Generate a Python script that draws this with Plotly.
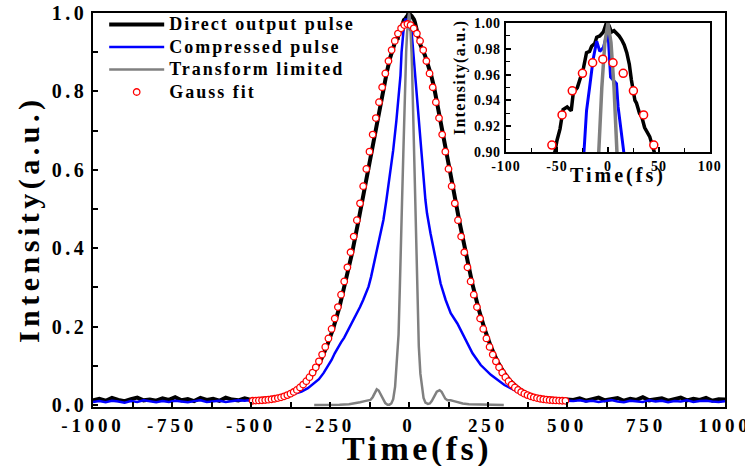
import plotly.graph_objects as go

# ---------------- data ----------------
# Direct output pulse (black)
black_noise_left_t = list(range(-1000, -500, 20))
black_noise_left_i = [0.012, 0.016, 0.011, 0.018, 0.013, 0.010, 0.015, 0.019, 0.012, 0.014,
                      0.011, 0.017, 0.013, 0.020, 0.012, 0.015, 0.010, 0.018, 0.013, 0.016,
                      0.011, 0.019, 0.014, 0.012, 0.017]
black_pulse_t = [-500, -480, -460, -440, -420, -400, -380, -360, -340, -320, -300, -280, -260,
                 -240, -220, -200, -180, -160, -140, -120, -100, -80,
                 -70, -60, -55, -52, -50, -47, -44, -40, -36, -34, -30, -27, -24, -21, -18, -16,
                 -13, -11, -8, -4.5, -1.5,
                 1, 3.5, 6, 8.5, 11, 13.5, 16, 18.5, 21, 23, 26.5, 28, 31, 33, 36, 41, 46, 50,
                 55, 60, 70, 80,
                 100, 120, 140, 160, 180, 200, 220, 240, 260, 280, 300, 320, 340, 360, 380, 400,
                 420, 440, 460, 480, 500]
black_pulse_i = [0.013, 0.014, 0.015, 0.016, 0.019, 0.022, 0.028, 0.036, 0.048, 0.063, 0.085,
                 0.113, 0.150, 0.195, 0.250, 0.314, 0.388, 0.470, 0.556, 0.645, 0.732, 0.812,
                 0.850, 0.885, 0.897, 0.900, 0.909, 0.918, 0.933, 0.935, 0.932, 0.946, 0.950,
                 0.957, 0.965, 0.977, 0.978, 0.982, 0.984, 0.989, 0.990, 0.993, 1.000,
                 0.998, 0.993, 0.994, 0.992, 0.990, 0.987, 0.983, 0.977, 0.968, 0.956, 0.940,
                 0.938, 0.930, 0.928, 0.919, 0.912, 0.900, 0.893, 0.882, 0.870, 0.842, 0.808,
                 0.727, 0.640, 0.552, 0.466, 0.384, 0.311, 0.246, 0.192, 0.147, 0.111, 0.083,
                 0.062, 0.047, 0.035, 0.027, 0.021, 0.018, 0.016, 0.015, 0.014, 0.014]
black_noise_right_t = list(range(520, 1001, 20))
black_noise_right_i = [0.013, 0.017, 0.011, 0.015, 0.019, 0.012, 0.014, 0.018, 0.011, 0.016,
                       0.013, 0.020, 0.012, 0.015, 0.017, 0.011, 0.014, 0.019, 0.012, 0.016,
                       0.013, 0.018, 0.011, 0.015, 0.014]

# Compressed pulse (blue)
blue_noise_left_t = list(range(-1000, -500, 20))
blue_noise_left_i = [0.008, 0.010, 0.007, 0.011, 0.009, 0.006, 0.010, 0.008, 0.012, 0.009,
                     0.007, 0.010, 0.008, 0.011, 0.009, 0.007, 0.010, 0.012, 0.008, 0.009,
                     0.011, 0.008, 0.010, 0.012, 0.011]
blue_pulse_t = [-500, -480, -460, -440, -420, -400, -380, -360, -340, -320, -300,
                -285, -270, -255, -245, -235, -225, -215, -205, -195, -185, -175, -165, -155,
                -145, -135, -128, -120, -113, -105, -97, -89, -81, -72, -60, -50, -40, -33,
                -27, -23.5, -21, -18, -14.5, -11, -8, -4.5, -2, 0,
                2.6, 5, 8.4, 10, 13.3, 20, 31, 40, 52, 57, 68, 79, 89, 100, 116, 132, 153, 174,
                201, 227, 259, 302, 344, 398, 451, 500]
blue_pulse_i = [0.013, 0.014, 0.016, 0.018, 0.019, 0.021, 0.024, 0.029, 0.034, 0.043, 0.055,
                0.066, 0.082, 0.100, 0.115, 0.132, 0.148, 0.160, 0.172, 0.187, 0.202, 0.218,
                0.232, 0.250, 0.268, 0.288, 0.302, 0.327, 0.353, 0.383, 0.412, 0.442, 0.472,
                0.520, 0.590, 0.650, 0.725, 0.795, 0.840, 0.900, 0.932, 0.950, 0.972, 0.986,
                0.978, 0.981, 0.988, 0.994,
                0.958, 0.956, 0.953, 0.935, 0.900, 0.835, 0.727, 0.640, 0.523, 0.489, 0.438,
                0.395, 0.353, 0.310, 0.268, 0.234, 0.208, 0.174, 0.132, 0.102, 0.077, 0.051,
                0.034, 0.021, 0.013, 0.011]
blue_noise_right_t = list(range(520, 1001, 20))
blue_noise_right_i = [0.010, 0.012, 0.009, 0.011, 0.008, 0.010, 0.013, 0.009, 0.007, 0.011,
                      0.010, 0.008, 0.012, 0.009, 0.011, 0.007, 0.010, 0.009, 0.012, 0.008,
                      0.010, 0.011, 0.009, 0.008, 0.010]

# Transform limited (gray)
gray_t = [-300, -250, -220, -190, -170, -155, -140, -130, -122, -115, -108, -102, -96, -90, -83,
          -75, -68, -62, -56, -50, -44, -38, -33, -29, -26, -22, -18, -14, -11, -9, -6, -3, 0,
          3, 6, 8, 10, 13, 17, 20, 23, 26, 31, 36, 41, 46, 52, 60, 66, 72, 80, 88, 97, 103,
          109, 115, 122, 132, 142, 155, 170, 190, 220, 250, 300]
gray_i = [0.000, 0.000, 0.001, 0.002, 0.004, 0.007, 0.010, 0.011, 0.013, 0.020, 0.032, 0.040,
          0.037, 0.027, 0.014, 0.005, 0.001, 0.001, 0.004, 0.015, 0.047, 0.110, 0.180, 0.300,
          0.440, 0.520, 0.640, 0.770, 0.850, 0.900, 0.950, 0.985, 1.000,
          0.985, 0.950, 0.900, 0.850, 0.760, 0.620, 0.520, 0.440, 0.340, 0.150, 0.080, 0.040,
          0.018, 0.006, 0.003, 0.004, 0.010, 0.022, 0.034, 0.038, 0.034, 0.025, 0.016, 0.012,
          0.012, 0.010, 0.007, 0.004, 0.002, 0.001, 0.000, 0.000]

# Gauss fit (red open circles)
fit_t = list(range(-495, 496, 10))
fit_i = [0.0110, 0.0113, 0.0117, 0.0122, 0.0129, 0.0137, 0.0148, 0.0161, 0.0177, 0.0197,
         0.0222, 0.0253, 0.0289, 0.0333, 0.0386, 0.0449, 0.0523, 0.0609, 0.0710, 0.0827,
         0.0961, 0.1114, 0.1288, 0.1483, 0.1700, 0.1942, 0.2208, 0.2499, 0.2814, 0.3153,
         0.3514, 0.3897, 0.4298, 0.4715, 0.5144, 0.5582, 0.6023, 0.6464, 0.6898, 0.7321,
         0.7725, 0.8106, 0.8458, 0.8776, 0.9054, 0.9288, 0.9475, 0.9610, 0.9692, 0.9720,
         0.9692, 0.9610, 0.9475, 0.9288, 0.9054, 0.8776, 0.8458, 0.8106, 0.7725, 0.7321,
         0.6898, 0.6464, 0.6023, 0.5582, 0.5144, 0.4715, 0.4298, 0.3897, 0.3514, 0.3153,
         0.2814, 0.2499, 0.2208, 0.1942, 0.1700, 0.1483, 0.1288, 0.1114, 0.0961, 0.0827,
         0.0710, 0.0609, 0.0523, 0.0449, 0.0386, 0.0333, 0.0289, 0.0253, 0.0222, 0.0197,
         0.0177, 0.0161, 0.0148, 0.0137, 0.0129, 0.0122, 0.0117, 0.0113, 0.0110, 0.0107]

series_names = ["Direct output pulse", "Compressed pulse", "Transform limited", "Gauss fit"]

main_xticks = [-1000, -750, -500, -250, 0, 250, 500, 750, 1000]
main_xticklabels = ["-1000", "-750", "-500", "-250", "0", "250", "500", "750", "1000"]
main_xminor = [-875, -625, -375, -125, 125, 375, 625, 875]
main_yticks = [0.0, 0.2, 0.4, 0.6, 0.8, 1.0]
main_yticklabels = ["0.0", "0.2", "0.4", "0.6", "0.8", "1.0"]
main_yminor = [0.1, 0.3, 0.5, 0.7, 0.9]
inset_xticks = [-100, -50, 0, 50, 100]
inset_xticklabels = ["-100", "-50", "0", "50", "100"]
inset_xminor = [-75, -25, 25, 75]
inset_yticks = [0.90, 0.92, 0.94, 0.96, 0.98, 1.00]
inset_yticklabels = ["0.90", "0.92", "0.94", "0.96", "0.98", "1.00"]
inset_yminor = [0.91, 0.93, 0.95, 0.97, 0.99]

x_title = "Time(fs)"
y_title = "Intensity(a.u.)"

# ---------------- figure ----------------
FONT = "Liberation Serif"


def sp(text, px, size=None):
    fs = f"font-size:{size}px;" if size else ""
    return f'<span style="{fs}letter-spacing:{px}px"><b>{text}</b></span>'


black_t = black_noise_left_t + black_pulse_t + black_noise_right_t
black_i = black_noise_left_i + black_pulse_i + black_noise_right_i
blue_t = blue_noise_left_t + blue_pulse_t + blue_noise_right_t
blue_i = blue_noise_left_i + blue_pulse_i + blue_noise_right_i

fig = go.Figure()

for xa, ya, inset in (("x", "y", False), ("x2", "y2", True)):
    fig.add_trace(go.Scatter(x=black_t, y=black_i, mode="lines",
                             name=sp(series_names[0], 2, 18), showlegend=not inset,
                             line=dict(color="black", width=4 if not inset else 3.5),
                             xaxis=xa, yaxis=ya))
    fig.add_trace(go.Scatter(x=blue_t, y=blue_i, mode="lines",
                             name=sp(series_names[1], 2, 18), showlegend=not inset,
                             line=dict(color="#0000FF", width=2.5 if not inset else 3),
                             xaxis=xa, yaxis=ya))
    fig.add_trace(go.Scatter(x=gray_t, y=gray_i, mode="lines",
                             name=sp(series_names[2], 2, 18), showlegend=not inset,
                             line=dict(color="#808080", width=2.5 if not inset else 3.5),
                             xaxis=xa, yaxis=ya))
    fig.add_trace(go.Scatter(x=fit_t, y=fit_i, mode="markers",
                             name=sp(series_names[3], 2, 18), showlegend=not inset,
                             marker=dict(symbol="circle", size=6.5 if not inset else 8,
                                         color="white",
                                         line=dict(color="#FF0000", width=1.3 if not inset else 1.5)),
                             xaxis=xa, yaxis=ya))

axis_common = dict(showline=True, linecolor="black", linewidth=1.5, mirror=True,
                   ticks="inside", ticklen=5, tickwidth=1.5, tickcolor="black",
                   showgrid=False, zeroline=False, tickmode="array", automargin=False,
                   ticklabeloverflow="allow")

fig.update_layout(
    width=745, height=466,
    margin=dict(l=93, r=20, t=13, b=59, autoexpand=False),
    paper_bgcolor="white", plot_bgcolor="white",
    font=dict(family=FONT, color="black"),
    showlegend=True,
    legend=dict(x=0.0177, y=1.012, xanchor="left", yanchor="top",
                bgcolor="rgba(0,0,0,0)", borderwidth=0, itemwidth=55,
                font=dict(family=FONT, size=15, color="black"),
                tracegroupgap=0),
    xaxis=dict(domain=[0, 1], range=[-1000, 1000], anchor="y",
               tickvals=main_xticks, ticktext=[sp(t, 3.8) for t in main_xticklabels],
               tickfont=dict(family=FONT, size=19), ticklabelstandoff=0,
               minor=dict(tickmode="array", tickvals=main_xminor, ticks="inside",
                          ticklen=5, tickwidth=1.5, tickcolor="black"),
               **axis_common),
    yaxis=dict(domain=[0, 1], range=[-0.005, 1.0], anchor="x",
               tickvals=main_yticks, ticktext=[sp(t, 3.5) for t in main_yticklabels],
               tickfont=dict(family=FONT, size=20), ticklabelstandoff=0,
               minor=dict(tickmode="array", tickvals=main_yminor, ticks="inside",
                          ticklen=5, tickwidth=1.5, tickcolor="black"),
               **axis_common),
    xaxis2=dict(domain=[0.6535, 0.976], range=[-100, 100], anchor="y2",
                tickvals=inset_xticks, ticktext=[sp(t, 1) for t in inset_xticklabels],
                tickfont=dict(family=FONT, size=14), ticklabelstandoff=0,
                minor=dict(tickmode="array", tickvals=inset_xminor, ticks="inside",
                           ticklen=4, tickwidth=1.2, tickcolor="black"),
                **axis_common),
    yaxis2=dict(domain=[0.647, 0.9746], range=[0.9, 1.0], anchor="x2",
                tickvals=inset_yticks, ticktext=[sp(t, 0.5) for t in inset_yticklabels],
                tickfont=dict(family=FONT, size=14), ticklabelstandoff=1,
                minor=dict(tickmode="array", tickvals=inset_yminor, ticks="inside",
                           ticklen=4, tickwidth=1.2, tickcolor="black"),
                **axis_common),
)

# axis titles (main and inset), anchored at their starting edge
fig.add_annotation(text=sp(y_title, 4.5), x=-0.1013, y=0.157, xref="paper", yref="paper",
                   textangle=-90, showarrow=False, xanchor="center", yanchor="bottom",
                   font=dict(family=FONT, size=30, color="black"))
fig.add_annotation(text=sp(x_title, 3.5), x=0.391, y=-0.106, xref="paper", yref="paper",
                   showarrow=False, xanchor="left", yanchor="middle",
                   font=dict(family=FONT, size=34, color="black"))
fig.add_annotation(text=sp(x_title, 3), x=0.7516, y=0.588, xref="paper", yref="paper",
                   showarrow=False, xanchor="left", yanchor="middle",
                   font=dict(family=FONT, size=20, color="black"))
fig.add_annotation(text=sp(y_title, 1.3), x=0.5807, y=0.685, xref="paper", yref="paper",
                   textangle=-90, showarrow=False, xanchor="center", yanchor="bottom",
                   font=dict(family=FONT, size=16, color="black"))

fig.write_html("out.html", config={"displayModeBar": False},
               post_script="document.body.style.margin='0';")
